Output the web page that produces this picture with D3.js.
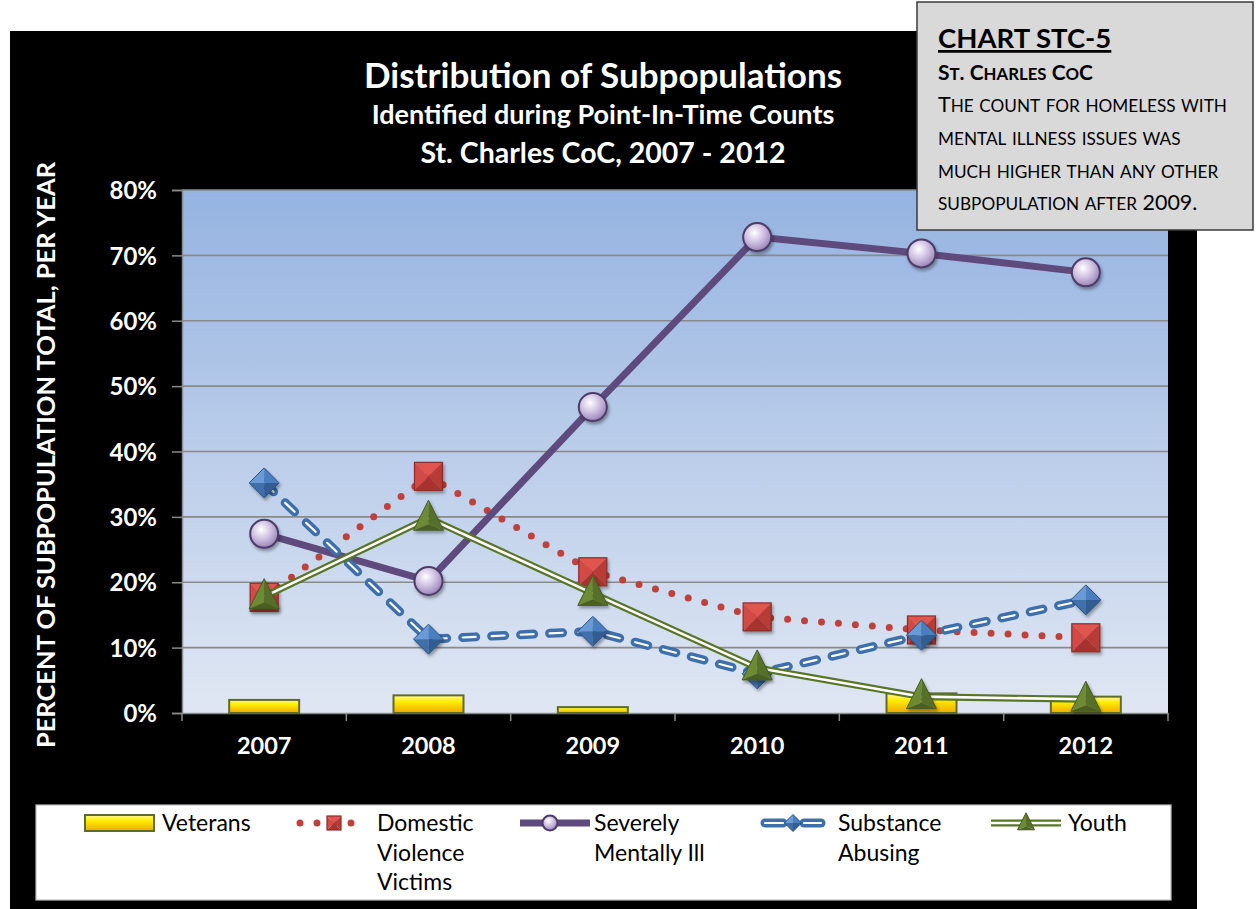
<!DOCTYPE html>
<html><head><meta charset="utf-8">
<script src="https://cdn.jsdelivr.net/npm/d3@7"></script>
<style>
html,body{margin:0;padding:0;background:#fff;}
svg{display:block;}
</style></head>
<body>
<script>
const years = ["2007","2008","2009","2010","2011","2012"];
const veterans = [0.020, 0.027, 0.009, 0.000, 0.030, 0.025];
const domestic = [0.177, 0.362, 0.216, 0.147, 0.127, 0.115];
const smi = [0.274, 0.202, 0.468, 0.728, 0.703, 0.674];
const substance = [0.352, 0.113, 0.125, 0.060, 0.119, 0.173];
const youth = [0.178, 0.298, 0.183, 0.069, 0.025, 0.021];
const yTicks = [0,0.1,0.2,0.3,0.4,0.5,0.6,0.7,0.8];
const titleLines = ["Distribution of Subpopulations","Identified during Point-In-Time Counts","St. Charles CoC, 2007 - 2012"];
const yTitle = "PERCENT OF SUBPOPULATION TOTAL, PER YEAR";
const legendNames = [["Veterans"],["Domestic","Violence","Victims"],["Severely","Mentally Ill"],["Substance","Abusing"],["Youth"]];
const calloutHead = "CHART STC-5";
const calloutSub = "St. Charles CoC";
const calloutBody = ["The count for homeless with","mental illness issues was","much higher than any other","subpopulation after 2009."];

const W=1257,H=909;
const FONT="Lato, 'Open Sans', sans-serif";
const svg=d3.select("body").append("svg").attr("width",W).attr("height",H);
const defs=svg.append("defs");

const pg=defs.append("linearGradient").attr("id","plotbg").attr("x1",0).attr("y1",0).attr("x2",0).attr("y2",1);
pg.append("stop").attr("offset","0%").attr("stop-color","#95b3e1");
pg.append("stop").attr("offset","100%").attr("stop-color","#e0e7f3");
const cg=defs.append("radialGradient").attr("id","circ").attr("cx","40%").attr("cy","35%").attr("r","65%");
cg.append("stop").attr("offset","0%").attr("stop-color","#ffffff");
cg.append("stop").attr("offset","55%").attr("stop-color","#cdbde0");
cg.append("stop").attr("offset","100%").attr("stop-color","#9c87b8");
const yg=defs.append("linearGradient").attr("id","ybar").attr("x1",0).attr("y1",0).attr("x2",0).attr("y2",1);
yg.append("stop").attr("offset","0%").attr("stop-color","#fff79a");
yg.append("stop").attr("offset","35%").attr("stop-color","#ffee00");
yg.append("stop").attr("offset","100%").attr("stop-color","#f0a800");
const sh=defs.append("filter").attr("id","shadow").attr("x","-50%").attr("y","-50%").attr("width","200%").attr("height","200%");
sh.append("feDropShadow").attr("dx",1.5).attr("dy",2.5).attr("stdDeviation",1.6).attr("flood-color","#000").attr("flood-opacity",0.35);

svg.append("rect").attr("x",10).attr("y",31).attr("width",1187).attr("height",878).attr("fill","#000");

const M={l:182,r:1168,t:190,b:713};
const x=d3.scaleBand().domain(years).range([M.l,M.r]).paddingInner(0).paddingOuter(0);
const y=d3.scaleLinear().domain([0,0.8]).range([M.b,M.t]);
const cx=d=>x(d)+x.bandwidth()/2;

svg.append("rect").attr("x",M.l).attr("y",M.t).attr("width",M.r-M.l).attr("height",M.b-M.t).attr("fill","url(#plotbg)");

svg.append("g").selectAll("line").data(yTicks.slice(1)).join("line")
 .attr("x1",M.l).attr("x2",M.r).attr("y1",d=>y(d)).attr("y2",d=>y(d))
 .attr("stroke","#8a8a8a").attr("stroke-width",1.6);

const yAxis=svg.append("g").attr("transform",`translate(${M.l},0)`)
 .call(d3.axisLeft(y).tickValues(yTicks).tickFormat(d3.format(".0%")).tickSize(10).tickPadding(15));
yAxis.select(".domain").attr("stroke","#8a8a8a").attr("stroke-width",1.5);
yAxis.selectAll(".tick line").attr("stroke","#8a8a8a").attr("stroke-width",1.5);
yAxis.selectAll("text").attr("fill","#fff").attr("font-family",FONT).attr("font-weight","bold").attr("font-size",24).attr("dy","0.36em");

const xAxis=svg.append("g").attr("transform",`translate(0,${M.b})`)
 .call(d3.axisBottom(x).tickSize(0).tickPadding(24));
xAxis.select(".domain").attr("stroke","#8a8a8a").attr("stroke-width",1.5);
xAxis.selectAll("text").attr("fill","#fff").attr("font-family",FONT).attr("font-weight","bold").attr("font-size",23.5);
svg.append("g").selectAll("line").data(years.concat(["end"])).join("line")
 .attr("x1",(d,i)=>M.l+i*x.bandwidth()).attr("x2",(d,i)=>M.l+i*x.bandwidth())
 .attr("y1",M.b).attr("y2",M.b+8).attr("stroke","#8a8a8a").attr("stroke-width",1.5);

const tsz=[35,27,28.5], tby=[88,124,163];
titleLines.forEach((t,i)=>svg.append("text").attr("x",603).attr("y",tby[i]).attr("text-anchor","middle")
 .attr("fill","#fff").attr("font-family",FONT).attr("font-weight","bold").attr("font-size",tsz[i]).text(t));
svg.append("text").attr("transform","translate(55,455) rotate(-90)").attr("text-anchor","middle")
 .attr("fill","#fff").attr("font-family",FONT).attr("font-weight","bold").attr("font-size",25.5).text(yTitle);

const bw=70;
svg.append("g").selectAll("rect").data(veterans.map((v,i)=>({v,yr:years[i]})).filter(d=>d.v>0)).join("rect")
 .attr("x",d=>cx(d.yr)-bw/2).attr("width",bw).attr("y",d=>y(d.v)).attr("height",d=>y(0)-y(d.v))
 .attr("fill","url(#ybar)").attr("stroke","#5e6b2f").attr("stroke-width",2);

const line=d3.line().x(d=>cx(d.yr)).y(d=>y(d.v));
const pts=arr=>arr.map((v,i)=>({v,yr:years[i]}));

function square(g,s){
  const h=s/2;
  g.append("path").attr("d",`M${-h},${-h}L0,0L${h},${-h}Z`).attr("fill","#e0564f");
  g.append("path").attr("d",`M${h},${-h}L0,0L${h},${h}Z`).attr("fill","#b93a35");
  g.append("path").attr("d",`M${-h},${h}L0,0L${h},${h}Z`).attr("fill","#a8332f");
  g.append("path").attr("d",`M${-h},${-h}L0,0L${-h},${h}Z`).attr("fill","#d24a44");
  g.append("rect").attr("x",-h).attr("y",-h).attr("width",s).attr("height",s).attr("fill","none").attr("stroke","#8e2b27").attr("stroke-width",1.2);
}
function diamond(g,s){
  const h=s/2;
  g.append("path").attr("d",`M0,${-h}L0,0L${-h},0Z`).attr("fill","#6b9bd6");
  g.append("path").attr("d",`M0,${-h}L0,0L${h},0Z`).attr("fill","#4a7fc0");
  g.append("path").attr("d",`M${-h},0L0,0L0,${h}Z`).attr("fill","#3f6fab");
  g.append("path").attr("d",`M${h},0L0,0L0,${h}Z`).attr("fill","#335d93");
  g.append("path").attr("d",`M0,${-h}L${h},0L0,${h}L${-h},0Z`).attr("fill","none").attr("stroke","#2c5282").attr("stroke-width",1);
}
function triangle(g,s){
  const h=s/2, ty=-s*0.6, by=s*0.4;
  g.append("path").attr("d",`M0,${ty}L${-h},${by}L0,${by*0.5}Z`).attr("fill","#6d8a36");
  g.append("path").attr("d",`M0,${ty}L${h},${by}L0,${by*0.5}Z`).attr("fill","#56702a");
  g.append("path").attr("d",`M${-h},${by}L${h},${by}L0,${by*0.5}Z`).attr("fill","#4a6124");
  g.append("path").attr("d",`M0,${ty}L${h},${by}L${-h},${by}Z`).attr("fill","none").attr("stroke","#465c22").attr("stroke-width",1);
}
function circle(g,s){
  g.append("circle").attr("r",s/2).attr("fill","url(#circ)").attr("stroke","#4e3b68").attr("stroke-width",2);
}

function drawDomestic(g,d){
  g.append("path").attr("d",d).attr("fill","none").attr("stroke","#c0413b").attr("stroke-width",7)
   .attr("stroke-linecap","round").attr("stroke-dasharray","0 17");
}
function drawSmi(g,d){
  g.append("path").attr("d",d).attr("fill","none").attr("stroke","#5f4a7d").attr("stroke-width",7).attr("stroke-linejoin","round");
}
function drawSub(g,d){
  g.append("path").attr("d",d).attr("fill","none").attr("stroke","#3d6fab").attr("stroke-width",9)
   .attr("stroke-linecap","round").attr("stroke-dasharray","13 16");
  g.append("path").attr("d",d).attr("fill","none").attr("stroke","#ffffff").attr("stroke-width",2.2)
   .attr("stroke-linecap","round").attr("stroke-dasharray","13 16");
}
function drawYouth(g,d){
  g.append("path").attr("d",d).attr("fill","none").attr("stroke","#587628").attr("stroke-width",7).attr("stroke-linejoin","round");
  g.append("path").attr("d",d).attr("fill","none").attr("stroke","#ffffff").attr("stroke-width",2.6).attr("stroke-linejoin","round");
}

const series=[
 {data:domestic, drawLine:drawDomestic, mark:square, size:28},
 {data:smi, drawLine:drawSmi, mark:circle, size:28},
 {data:substance, drawLine:drawSub, mark:diamond, size:30},
 {data:youth, drawLine:drawYouth, mark:triangle, size:30}
];
series.forEach(s=>{
  const g=svg.append("g");
  s.drawLine(g,line(pts(s.data)));
  pts(s.data).forEach(p=>{
    const mg=g.append("g").attr("transform",`translate(${cx(p.yr)},${y(p.v)})`).attr("filter","url(#shadow)");
    s.mark(mg,s.size);
  });
});

// legend
svg.append("rect").attr("x",36).attr("y",805).attr("width",1135).attr("height",95).attr("fill","#fff").attr("stroke","#bdbdbd").attr("stroke-width",1.2);
const LF=23, ly=823, lsp=29.5;
function ltext(xx,lines){
  const t=svg.append("text").attr("font-family",FONT).attr("font-size",LF).attr("fill","#000");
  lines.forEach((l,i)=>t.append("tspan").attr("x",xx).attr("y",ly+8+i*lsp).text(l));
}
svg.append("rect").attr("x",85).attr("y",815).attr("width",69).attr("height",16).attr("fill","url(#ybar)").attr("stroke","#5e6b2f").attr("stroke-width",2);
ltext(162,legendNames[0]);
{
  const g=svg.append("g");
  drawDomestic(g,`M300,${ly}L368,${ly}`);
  const mg=g.append("g").attr("transform",`translate(334,${ly})`); square(mg,14);
  ltext(377,legendNames[1]);
}
{
  const g=svg.append("g");
  drawSmi(g,`M520,${ly}L590,${ly}`);
  const mg=g.append("g").attr("transform",`translate(550,${ly})`); circle(mg,15);
  ltext(594,legendNames[2]);
}
{
  const g=svg.append("g");
  [[765,783],[804,821]].forEach(([a,b])=>{
    g.append("path").attr("d",`M${a},${ly}L${b},${ly}`).attr("stroke","#3d6fab").attr("stroke-width",9).attr("stroke-linecap","round");
    g.append("path").attr("d",`M${a},${ly}L${b},${ly}`).attr("stroke","#fff").attr("stroke-width",2.2).attr("stroke-linecap","round");
  });
  const mg=g.append("g").attr("transform",`translate(793,${ly})`); diamond(mg,17);
  ltext(838,legendNames[3]);
}
{
  const g=svg.append("g");
  drawYouth(g,`M991,${ly}L1061,${ly}`);
  const mg=g.append("g").attr("transform",`translate(1026,${ly})`); triangle(mg,17);
  ltext(1068,legendNames[4]);
}

// callout
svg.append("rect").attr("x",917).attr("y",2).attr("width",336).attr("height",228).attr("fill","#d9d9d9").attr("stroke","#3a3a3a").attr("stroke-width",1.5);
svg.append("text").attr("x",938).attr("y",48).attr("font-family",FONT).attr("font-weight","bold").attr("font-size",27.5)
 .attr("text-decoration","underline").attr("fill","#000").text(calloutHead);
// manual small caps: lowercase letters shown as capitals at 80% size
function smallCaps(xx,yy,str,size,bold){
  const t=svg.append("text").attr("x",xx).attr("y",yy).attr("font-family",FONT).attr("fill","#000")
    .attr("font-weight",bold?"bold":"normal").attr("font-size",size);
  const runs=[];
  for(const ch of str){
    const small=(ch>="a"&&ch<="z");
    if(runs.length&&runs[runs.length-1].small===small) runs[runs.length-1].s+=ch;
    else runs.push({small,s:ch});
  }
  runs.forEach(r=>t.append("tspan").attr("font-size",r.small?size*0.8:size).text(r.small?r.s.toUpperCase():r.s));
}
smallCaps(938,80,calloutSub,21,true);
const cb=[112,145,178,210];
calloutBody.forEach((t,i)=>smallCaps(938,cb[i],t,21.5,false));
</script>
</body></html>
